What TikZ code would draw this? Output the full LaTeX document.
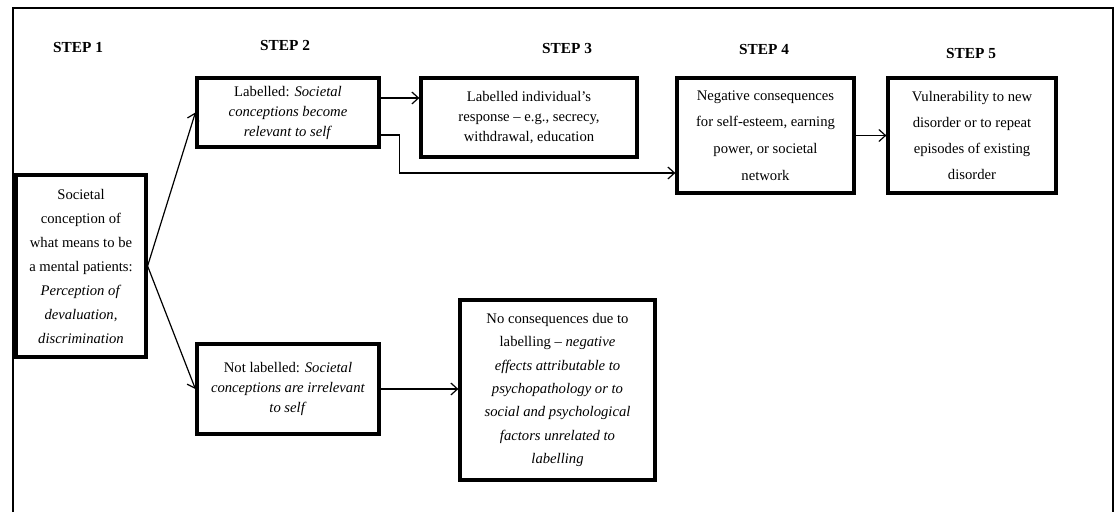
\documentclass[tikz,border=0pt]{standalone}
\usepackage{fontspec}
\setmainfont{Liberation Serif}
\usetikzlibrary{arrows.meta,calc}
\begin{document}
\begin{tikzpicture}[x=0.75pt,y=-0.75pt,
  box/.style={draw,line width=2.4pt,align=center,inner sep=0pt,font=\fontsize{11}{15}\selectfont},
  steplabel/.style={font=\fontsize{11.5}{14}\selectfont\bfseries},
  arr/.style={line width=0.9pt,-{Straight Barb[length=5pt,width=9pt]}}]
\useasboundingbox (0,0) rectangle (1115,512);
\draw[line width=1.5pt] (13,512) -- (13,8) -- (1113,8) -- (1113,512);
\node[steplabel] (s1) at (78,47) {STEP 1}; \node[steplabel] (s2) at (285,45) {STEP 2};
\node[steplabel] (s3) at (567,48) {STEP 3}; \node[steplabel] (s4) at (764,49) {STEP 4};
\node[steplabel] (s5) at (971,53) {STEP 5};
\node[box,minimum width=97.5pt,minimum height=136.5pt,font=\fontsize{11}{18}\selectfont] (A) at (81,266)
  {Societal\\conception of\\what means to be\\a mental patients:\\\textit{Perception of}\\\textit{devaluation,}\\\textit{discrimination}};
\node[box,minimum width=136.5pt,minimum height=51.75pt] (B) at (288,112.5)
  {Labelled: \textit{Societal}\\\textit{conceptions become}\\\textit{relevant to self}};
\node[box,minimum width=162pt,minimum height=59.25pt] (C) at (529,117.5)
  {Labelled individual's\\response -- e.g., secrecy,\\withdrawal, education};
\node[box,minimum width=132.75pt,minimum height=86.25pt,font=\fontsize{11}{20}\selectfont] (D) at (765.5,135.5)
  {Negative consequences\\for self-esteem, earning\\power, or societal\\network};
\node[box,minimum width=126pt,minimum height=86.25pt,font=\fontsize{11}{19.5}\selectfont] (E) at (972,135.5)
  {Vulnerability to new\\disorder or to repeat\\episodes of existing\\disorder};
\node[box,minimum width=136.5pt,minimum height=67.5pt] (F) at (288,389)
  {Not labelled: \textit{Societal}\\\textit{conceptions are irrelevant}\\\textit{to self}};
\node[box,minimum width=146.25pt,minimum height=135pt,font=\fontsize{11}{17.5}\selectfont] (G) at (557.5,390)
  {No consequences due to\\labelling -- \textit{negative}\\\textit{effects attributable to}\\\textit{psychopathology or to}\\\textit{social and psychological}\\\textit{factors unrelated to}\\\textit{labelling}};
\draw[arr] (A.east) -- (B.west); \draw[arr] (A.east) -- (F.west);
\draw[arr] (B.east) ++(0,-14.5) coordinate (b1) -- (b1 -| C.west);
\draw[arr] ($(B.east)+(0,22.5)$) -- ++(19,0) |- ($(D.west)+(0,37.5)$);
\draw[arr] (D.east) -- (E.west); \draw[arr] (F.east) -- (F.east -| G.west);
\end{tikzpicture}
\end{document}
